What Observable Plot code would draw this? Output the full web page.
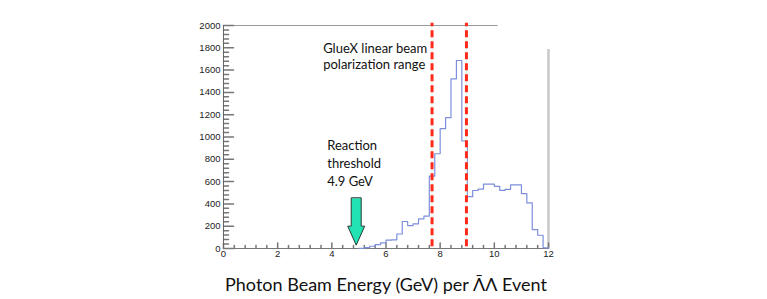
<!DOCTYPE html>
<html><head><meta charset="utf-8">
<script src="https://cdn.jsdelivr.net/npm/d3@7"></script>
<script src="https://cdn.jsdelivr.net/npm/@observablehq/plot@0.6"></script>
<style>body{margin:0;background:#fff}svg{display:block}</style>
</head><body><div id="chart"></div>
<script>
// Histogram: photon beam energy (GeV), 0.2 GeV bins
const binStarts = [5.0,5.2,5.4,5.6,5.8,6.0,6.2,6.4,6.6,6.8,7.0,7.2,7.4,7.6,7.8,8.0,8.2,8.4,8.6,8.8,9.0,9.2,9.4,9.6,9.8,10.0,10.2,10.4,10.6,10.8,11.0,11.2,11.4,11.6,11.8];
const binCounts = [2,8,20,35,50,75,78,130,242,206,220,265,290,650,850,1075,1173,1522,1686,964,465,520,533,578,578,558,522,531,570,570,492,409,170,119,5];
const binEnd = 12;

const polarizationRange = [7.7, 8.97];
const threshold = [{energy: 4.9, count: 30}];

const xTickLabels = [0, 2, 4, 6, 8, 10, 12];
const xMinorTicks = [0.4,0.8,1.2,1.6,2.4,2.8,3.2,3.6,4.4,4.8,5.2,5.6,6.4,6.8,7.2,7.6,8.4,8.8,9.2,9.6,10.4,10.8,11.2,11.6];
const yTickLabels = [0, 200, 400, 600, 800, 1000, 1200, 1400, 1600, 1800, 2000];
const yMinorTicks = yTickLabels.slice(0, -1).flatMap(v => [40, 80, 120, 160].map(o => v + o));

const frameTop = [{value: 2000, from: 0, to: 10.14}];
const frameRight = [{value: 12, from: 0, to: 1785}];

const gluexText = ["GlueX linear beam\npolarization range"];
const gluexPos = {energy: 3.68, count: 1731};
const thresholdText = ["Reaction\nthreshold\n4.9 GeV"];
const thresholdPos = {energy: 3.83, count: 776};
const axisTitle = ["Photon Beam Energy (GeV) per \u039B\u0304\u039B Event"];

const histPoints = [{x: binStarts[0], y: 0}]
  .concat(binStarts.map((x, i) => ({x, y: binCounts[i]})))
  .concat([{x: binEnd, y: 0}]);

const tickShape = {draw(ctx, l) { ctx.moveTo(0, 0); ctx.lineTo(0, -l); }};
const arrowShape = {draw(ctx, l) {
  const hw = 5, headW = 8.5, headL = 19;
  ctx.moveTo(-hw, 0);
  ctx.lineTo(-hw, -l + headL);
  ctx.lineTo(-headW, -l + headL);
  ctx.lineTo(0, -l);
  ctx.lineTo(headW, -l + headL);
  ctx.lineTo(hw, -l + headL);
  ctx.lineTo(hw, 0);
  ctx.closePath();
}};

const chart = Plot.plot({
  width: 767,
  height: 299,
  marginLeft: 223,
  marginRight: 219,
  marginTop: 25,
  marginBottom: 51,
  style: {fontFamily: "Lato, sans-serif", background: "#fff", overflow: "visible"},
  x: {domain: [0, 12]},
  y: {domain: [0, 2000]},
  marks: [
    Plot.axisX({ticks: xTickLabels, tickFormat: d => String(d), tickSize: 0, tickPadding: 2, label: null, fontSize: 9.5, fontFamily: "Liberation Sans, Arial, sans-serif", fill: "#222"}),
    Plot.axisY({ticks: yTickLabels, tickFormat: d => String(d), tickSize: 0, tickPadding: 3, label: null, fontSize: 9.5, fontFamily: "Liberation Sans, Arial, sans-serif", fill: "#222"}),
    Plot.ruleY(frameTop, {y: "value", x1: "from", x2: "to", stroke: "#999", strokeWidth: 1}),
    Plot.ruleX(frameRight, {x: "value", y1: "from", y2: "to", stroke: "#c8c8c8", strokeWidth: 2.5}),
    Plot.vector(yTickLabels, {y: d => d, frameAnchor: "left", length: 10, rotate: 90, anchor: "start", shape: tickShape, stroke: "#777"}),
    Plot.vector(yMinorTicks, {y: d => d, frameAnchor: "left", length: 5, rotate: 90, anchor: "start", shape: tickShape, stroke: "#777"}),
    Plot.vector(xTickLabels, {x: d => d, frameAnchor: "bottom", length: 5.5, rotate: 0, anchor: "start", shape: tickShape, stroke: "#777"}),
    Plot.vector(xMinorTicks, {x: d => d, frameAnchor: "bottom", length: 3, rotate: 0, anchor: "start", shape: tickShape, stroke: "#777"}),
    Plot.ruleX([0], {stroke: "#666", strokeWidth: 1}),
    Plot.ruleY([0], {stroke: "#777", strokeWidth: 1}),
    Plot.line(histPoints, {x: "x", y: "y", curve: "step-after", stroke: "#7d8fdc", strokeWidth: 1.2}),
    Plot.ruleX(polarizationRange, {x: d => d, y1: 15, y2: 2020, stroke: "#d8f6f2", strokeWidth: 1}),
    Plot.ruleX(polarizationRange, {x: d => d, y1: 15, y2: 2020, stroke: "#ff2a1a", strokeWidth: 3, strokeDasharray: "7,4"}),
    Plot.vector(threshold, {x: "energy", y: "count", length: 47, rotate: 180, anchor: "end", shape: arrowShape, fill: "#22e3b3", stroke: "#2b3a36", strokeWidth: 1}),
    Plot.text(gluexText, {x: () => gluexPos.energy, y: () => gluexPos.count, text: d => d, textAnchor: "start", lineAnchor: "middle", fontSize: 13, lineHeight: 1.23, fill: "#111"}),
    Plot.text(thresholdText, {x: () => thresholdPos.energy, y: () => thresholdPos.count, text: d => d, textAnchor: "start", lineAnchor: "middle", fontSize: 13, lineHeight: 1.41, fill: "#111"}),
    Plot.text(axisTitle, {text: d => d, frameAnchor: "bottom", lineAnchor: "bottom", dy: 42, fontSize: 18, fill: "#111"})
  ]
});
document.getElementById("chart").append(chart);
</script>
</body></html>
